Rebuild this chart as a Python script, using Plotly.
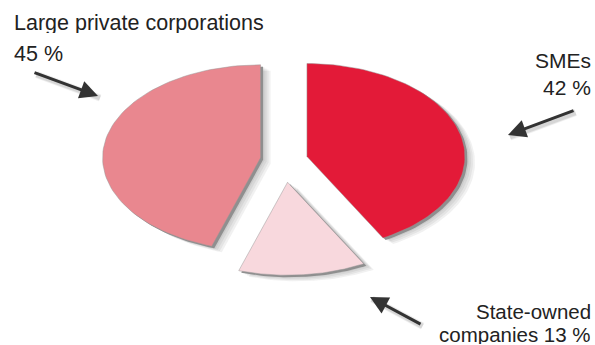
import numpy as np
import plotly.graph_objects as go

# Ownership shares (%), listed clockwise from 12 o'clock
categories = ["SMEs", "State-owned companies", "Large private corporations"]
shares = [42, 13, 45]

# Styling
slice_colors = ["#E31A38", "#F8D8DD", "#E9878F"]
pull = [0.15, 0.24, 0.15]          # explosion, in units of the radius
W, H = 595, 345
cx, cy = 284, 160                  # pie centre (px)
rx, ry = 158, 93                   # tilted pie -> ellipse radii (px)


def wedge(frac0, frac1, p, ox=0.0, oy=0.0):
    """Polygon of one exploded elliptical wedge, angles clockwise from top."""
    t0 = np.pi / 2 - 2 * np.pi * frac0
    t1 = np.pi / 2 - 2 * np.pi * frac1
    tm = (t0 + t1) / 2
    dx = p * rx * np.cos(tm)
    dy = -p * ry * np.sin(tm)
    t = np.linspace(t0, t1, 80)
    x = np.concatenate([[0], rx * np.cos(t), [0]]) + cx + dx + ox
    y = np.concatenate([[0], -ry * np.sin(t), [0]]) + cy + dy + oy
    return x, y


fig = go.Figure()
total = float(sum(shares))
bounds = np.concatenate([[0], np.cumsum(shares) / total])

# soft drop shadows
for i in range(len(shares)):
    for k in range(2, 11, 2):
        x, y = wedge(bounds[i], bounds[i + 1], pull[i], ox=k, oy=k * 0.6)
        fig.add_trace(go.Scatter(x=x, y=y, mode="lines", fill="toself",
                                 fillcolor="rgba(60,60,60,0.07)",
                                 line=dict(width=0), hoverinfo="skip",
                                 showlegend=False))
# side rim
for i in range(len(shares)):
    x, y = wedge(bounds[i], bounds[i + 1], pull[i], ox=2.5, oy=2)
    fig.add_trace(go.Scatter(x=x, y=y, mode="lines", fill="toself",
                             fillcolor="#8f8f8f", line=dict(width=0),
                             hoverinfo="skip", showlegend=False))
# slices
for i, name in enumerate(categories):
    x, y = wedge(bounds[i], bounds[i + 1], pull[i])
    fig.add_trace(go.Scatter(x=x, y=y, mode="lines", fill="toself",
                             fillcolor=slice_colors[i],
                             line=dict(width=0.8, color="rgba(150,150,150,0.6)"),
                             name=name, showlegend=False))

labels = [
    ("Large private corporations", 13, 23, "left", 21.5),
    ("45 %", 13, 54, "left", 21.5),
    ("SMEs", 592, 60, "right", 21),
    ("42 %", 592, 87, "right", 21),
    ("State-owned", 592, 311, "right", 20.5),
    ("companies 13 %", 592, 334, "right", 20.5),
]
for text, x, y, anchor, size in labels:
    fig.add_annotation(x=x, y=y, text=text, showarrow=False, xanchor=anchor,
                       yanchor="middle", xref="x", yref="y",
                       font=dict(family="Liberation Sans, Arial, sans-serif",
                                 size=size, color="#222222"),
                       height=20, borderpad=0)

# pointer arrows (head, tail)
arrows = [((98, 96), (33, 72)), ((508, 135), (575, 110)), ((370, 297), (422, 325))]
for (hx, hy), (tx, ty) in arrows:
    for w, a in ((7, 0.10), (5, 0.15)):
        fig.add_annotation(x=hx + 2, y=hy + 2, ax=tx + 2, ay=ty + 2, xref="x", yref="y",
                           axref="x", ayref="y", text="", showarrow=True,
                           arrowhead=0, arrowwidth=w,
                           arrowcolor=f"rgba(90,90,90,{a})")
    fig.add_annotation(x=hx, y=hy, ax=tx, ay=ty, xref="x", yref="y",
                       axref="x", ayref="y", text="", showarrow=True,
                       arrowhead=2, arrowsize=1.2, arrowwidth=3,
                       arrowcolor="#333333")

fig.update_layout(
    width=W, height=H,
    margin=dict(l=0, r=0, t=0, b=0),
    paper_bgcolor="white", plot_bgcolor="white",
    xaxis=dict(range=[0, W], visible=False, fixedrange=True),
    yaxis=dict(range=[H, 0], visible=False, fixedrange=True),
    showlegend=False,
)

fig.write_html("out.html")
